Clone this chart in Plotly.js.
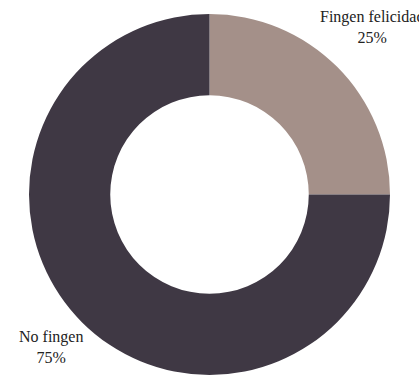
<!DOCTYPE html>
<html>
<head>
<meta charset="utf-8">
<script src="https://cdn.plot.ly/plotly-3.0.1.min.js"></script>
<style>html,body{margin:0;padding:0;background:#fff;overflow:hidden}#chart{width:419px;height:375px}</style>
</head>
<body>
<div id="chart"></div>
<script>
const labels = ["Fingen felicidad", "No fingen"];
const values = [25, 75];
const colors = ["#a49089", "#3f3844"];
const labelPos = [[372, 27], [51, 347]];

const W = 419, H = 375, T = 14;
const annotations = labels.map((l, i) => ({
  xref: "paper", yref: "paper",
  x: labelPos[i][0] / W, y: 1 - (labelPos[i][1] - T) / (H - T),
  xanchor: "center", yanchor: "middle",
  text: l + "<br>" + values[i] + "%",
  showarrow: false,
  font: {family: "Liberation Serif, Times New Roman, serif", size: 16, color: "#222"}
}));

Plotly.newPlot("chart", [{
  type: "pie",
  labels: labels,
  values: values,
  hole: 0.55,
  sort: false,
  direction: "clockwise",
  rotation: 0,
  textinfo: "none",
  hoverinfo: "none",
  marker: {colors: colors, line: {width: 0}}
}], {
  width: W, height: H,
  margin: {l: 0, r: 0, t: T, b: 0},
  showlegend: false,
  paper_bgcolor: "#fff",
  annotations: annotations
}, {displayModeBar: false, staticPlot: true});
</script>
</body>
</html>
